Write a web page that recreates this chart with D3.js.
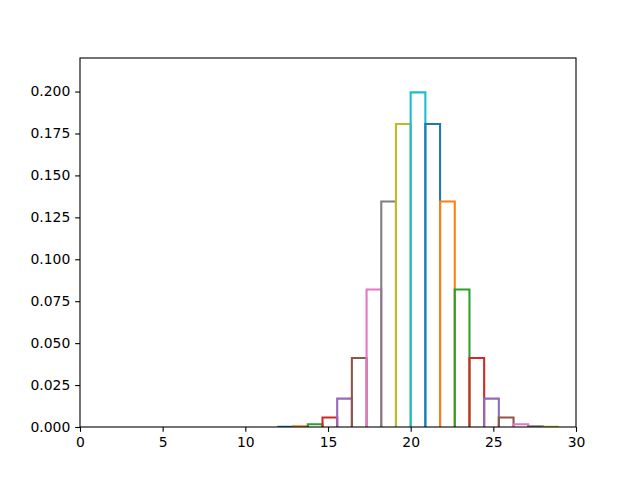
<!DOCTYPE html>
<html>
<head>
<meta charset="utf-8">
<script src="https://cdn.jsdelivr.net/npm/d3@7/dist/d3.min.js"></script>
<style>
  html, body { margin: 0; padding: 0; background: #fff; }
  svg { display: block; font-family: "DejaVu Sans", sans-serif; }
</style>
</head>
<body>
<svg id="chart" width="640" height="480"></svg>
<script>
// Data
const binStarts = [12, 12.889, 13.778, 14.667, 15.556, 16.444, 17.333, 18.222, 19.111, 20,
                   20.889, 21.778, 22.667, 23.556, 24.444, 25.333, 26.222, 27.111, 28];
const binWidth = 0.889;
const heights = [0.0001, 0.0004, 0.0016, 0.0057, 0.0169, 0.0411, 0.0820, 0.1344, 0.1807, 0.1995,
                 0.1807, 0.1344, 0.0820, 0.0411, 0.0169, 0.0057, 0.0016, 0.0004, 0.0001];
const xTicks = [0, 5, 10, 15, 20, 25, 30];
const yTicks = [0, 0.025, 0.05, 0.075, 0.1, 0.125, 0.15, 0.175, 0.2];

const margin = { left: 80, right: 64, top: 58, bottom: 53 };
const W = 640, H = 480;
const pw = W - margin.left - margin.right;
const ph = H - margin.top - margin.bottom;

const svg = d3.select("#chart");
const x = d3.scaleLinear().domain([0, 30]).range([0, pw]);
const y = d3.scaleLinear().domain([0, 0.22]).range([ph, 0]);
const colors = d3.schemeCategory10;

svg.append("defs").append("clipPath").attr("id", "clip")
  .append("rect").attr("x", 0).attr("y", 0).attr("width", pw).attr("height", ph);

const g = svg.append("g").attr("transform", `translate(${margin.left},${margin.top})`);

const bars = g.append("g").attr("clip-path", "url(#clip)");
binStarts.forEach((b, i) => {
  const x0 = x(b), x1 = x(b + binWidth), yt = y(heights[i]), y0 = y(0);
  bars.append("path")
    .attr("d", `M${x0},${y0}L${x0},${yt}L${x1},${yt}L${x1},${y0}`)
    .attr("fill", "none")
    .attr("stroke", colors[i % 10])
    .attr("stroke-width", 2.08)
    .attr("stroke-linejoin", "miter")
    .attr("stroke-linecap", "butt");
});

const xAxis = d3.axisBottom(x).tickValues(xTicks).tickFormat(d3.format("d"))
  .tickSizeOuter(0).tickSizeInner(4.86).tickPadding(4.9);
const yAxis = d3.axisLeft(y).tickValues(yTicks).tickFormat(d3.format(".3f"))
  .tickSizeOuter(0).tickSizeInner(4.86).tickPadding(4.9);

const gx = g.append("g").attr("transform", `translate(0,${ph})`).call(xAxis);
const gy = g.append("g").call(yAxis);
[gx, gy].forEach(a => {
  a.select(".domain").remove();
  a.selectAll(".tick line").attr("stroke", "#000").attr("stroke-width", 1.1);
  a.selectAll(".tick text").attr("fill", "#000").attr("font-size", "13.9px")
    .attr("font-family", "DejaVu Sans, sans-serif");
});

// spines
g.append("rect").attr("x", 0).attr("y", 0).attr("width", pw).attr("height", ph)
  .attr("fill", "none").attr("stroke", "#000").attr("stroke-width", 1.1);
</script>
</body>
</html>
